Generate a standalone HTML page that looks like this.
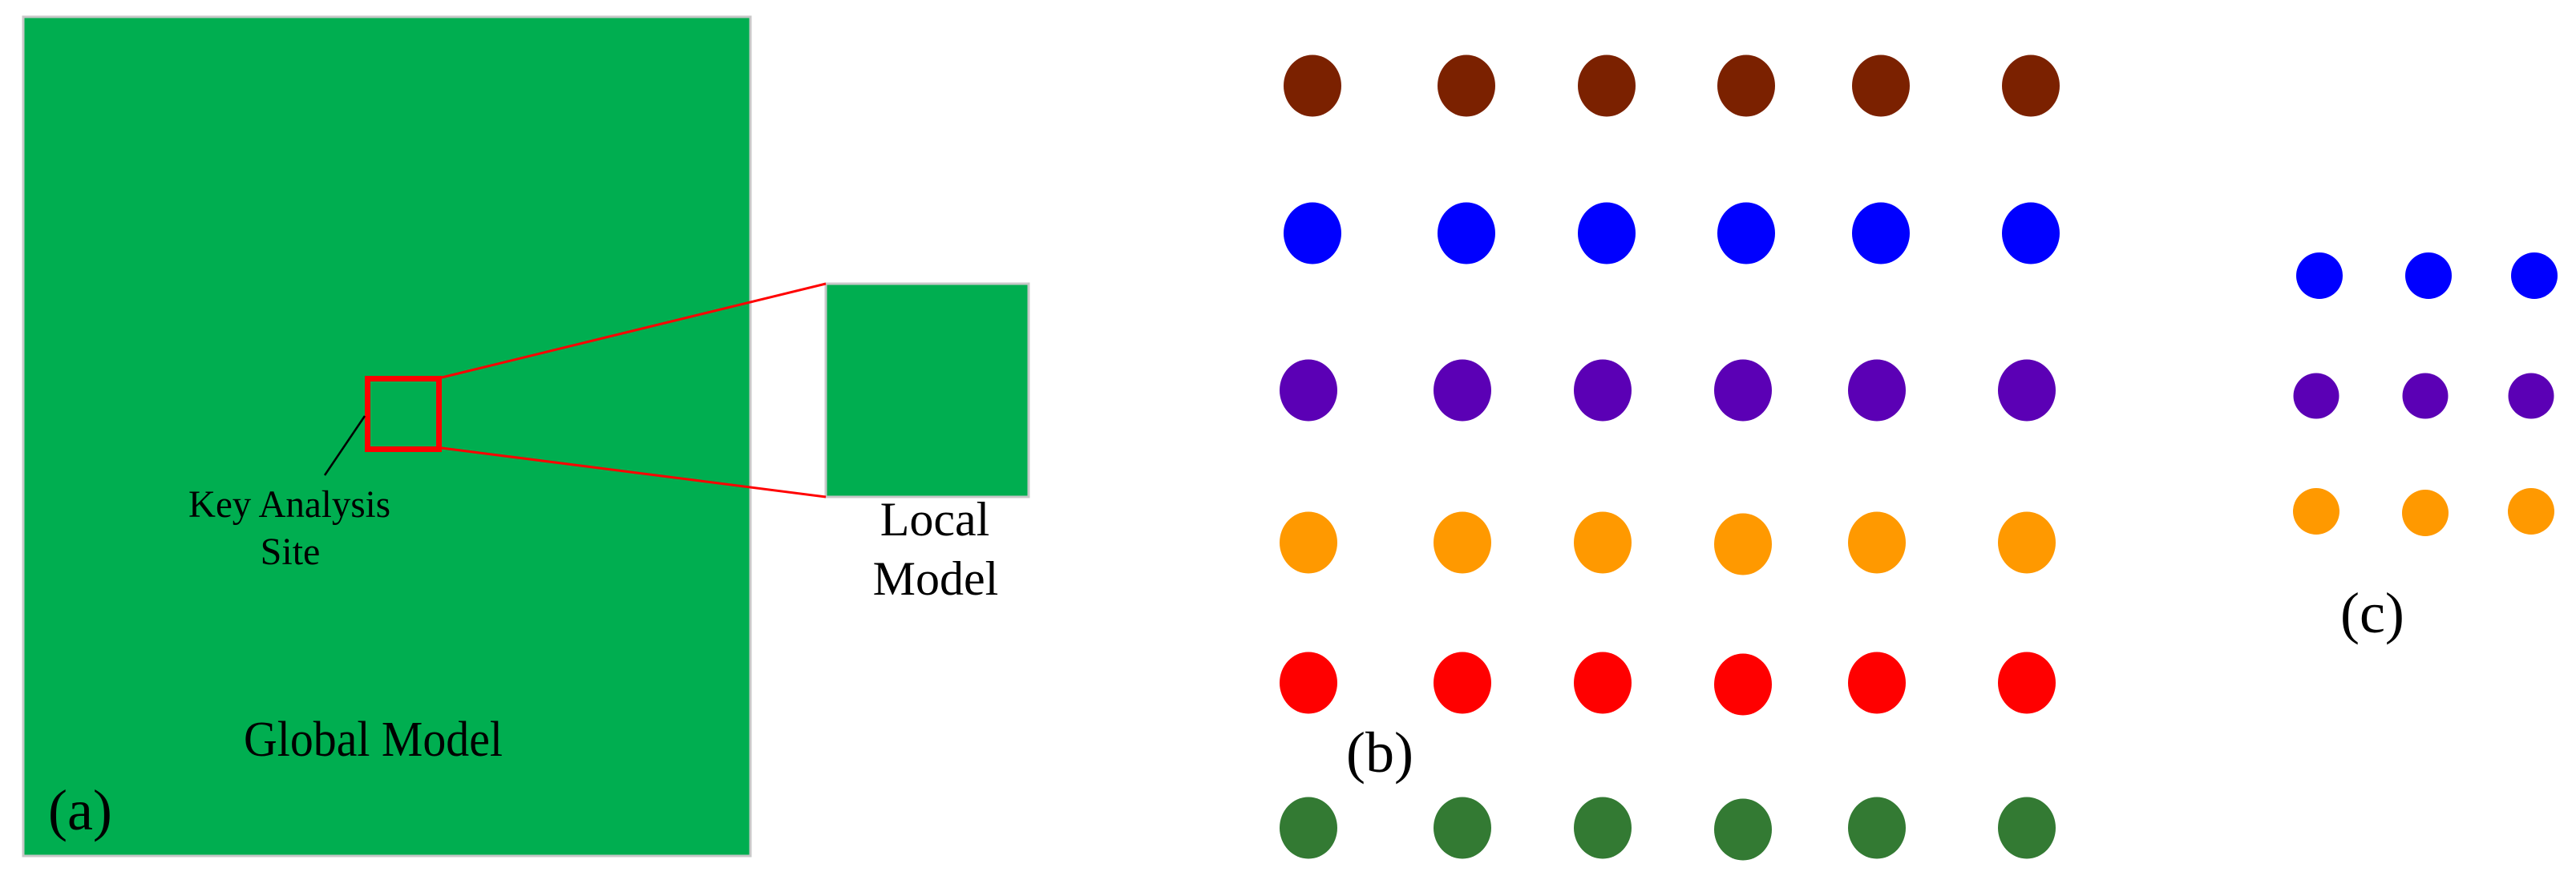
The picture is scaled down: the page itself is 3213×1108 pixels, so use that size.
<!DOCTYPE html>
<html><head><meta charset="utf-8"><style>
html,body{margin:0;padding:0;background:#fff;}
svg{display:block;}
svg text{font-family:"Liberation Serif","Times New Roman",Times,serif !important;fill:#000;}
</style></head><body>
<svg width="3213" height="1108" viewBox="0 0 3213 1108" xmlns="http://www.w3.org/2000/svg" font-family="Liberation Serif, Times New Roman, serif">
<rect x="29" y="21" width="907" height="1047" fill="#00AE50" stroke="#c8c8c8" stroke-width="3"/>
<rect x="1030" y="354" width="253" height="266" fill="#00AE50" stroke="#c8c8c8" stroke-width="3"/>
<line x1="551" y1="471" x2="1030" y2="354" stroke="#ff0000" stroke-width="3"/>
<line x1="551" y1="559" x2="1030" y2="620" stroke="#ff0000" stroke-width="3"/>
<rect x="458.5" y="472.5" width="89" height="88" fill="none" stroke="#ff0000" stroke-width="7"/>
<line x1="455" y1="519" x2="405" y2="593" stroke="#000" stroke-width="2.5"/>
<text font-family="Liberation Serif" x="361" y="645" font-size="48" text-anchor="middle" textLength="252" lengthAdjust="spacingAndGlyphs">Key Analysis</text>
<text font-family="Liberation Serif" x="362" y="704" font-size="48" text-anchor="middle">Site</text>
<text font-family="Liberation Serif" x="304" y="943" font-size="62" textLength="323" lengthAdjust="spacingAndGlyphs">Global Model</text>
<text font-family="Liberation Serif" x="1166" y="668" font-size="60" text-anchor="middle">Local</text>
<text font-family="Liberation Serif" x="1167" y="742" font-size="60" text-anchor="middle">Model</text>
<text font-family="Liberation Serif" x="60" y="1035" font-size="72">(a)</text>
<text font-family="Liberation Serif" x="1679" y="963" font-size="72">(b)</text>
<text font-family="Liberation Serif" x="2919" y="789" font-size="72">(c)</text>
<g>
<g fill="#7B2100">
<ellipse cx="1637" cy="107" rx="36" ry="38.5"/><ellipse cx="1829" cy="107" rx="36" ry="38.5"/><ellipse cx="2004" cy="107" rx="36" ry="38.5"/><ellipse cx="2178" cy="107" rx="36" ry="38.5"/><ellipse cx="2346" cy="107" rx="36" ry="38.5"/><ellipse cx="2533" cy="107" rx="36" ry="38.5"/>
</g>
<g fill="#0000FF">
<ellipse cx="1637" cy="291" rx="36" ry="38.5"/><ellipse cx="1829" cy="291" rx="36" ry="38.5"/><ellipse cx="2004" cy="291" rx="36" ry="38.5"/><ellipse cx="2178" cy="291" rx="36" ry="38.5"/><ellipse cx="2346" cy="291" rx="36" ry="38.5"/><ellipse cx="2533" cy="291" rx="36" ry="38.5"/>
</g>
<g fill="#5B00B5">
<ellipse cx="1632" cy="487" rx="36" ry="38.5"/><ellipse cx="1824" cy="487" rx="36" ry="38.5"/><ellipse cx="1999" cy="487" rx="36" ry="38.5"/><ellipse cx="2174" cy="487" rx="36" ry="38.5"/><ellipse cx="2341" cy="487" rx="36" ry="38.5"/><ellipse cx="2528" cy="487" rx="36" ry="38.5"/>
</g>
<g fill="#FF9900">
<ellipse cx="1632" cy="677" rx="36" ry="38.5"/><ellipse cx="1824" cy="677" rx="36" ry="38.5"/><ellipse cx="1999" cy="677" rx="36" ry="38.5"/><ellipse cx="2174" cy="679" rx="36" ry="38.5"/><ellipse cx="2341" cy="677" rx="36" ry="38.5"/><ellipse cx="2528" cy="677" rx="36" ry="38.5"/>
</g>
<g fill="#FF0000">
<ellipse cx="1632" cy="852" rx="36" ry="38.5"/><ellipse cx="1824" cy="852" rx="36" ry="38.5"/><ellipse cx="1999" cy="852" rx="36" ry="38.5"/><ellipse cx="2174" cy="854" rx="36" ry="38.5"/><ellipse cx="2341" cy="852" rx="36" ry="38.5"/><ellipse cx="2528" cy="852" rx="36" ry="38.5"/>
</g>
<g fill="#337A33">
<ellipse cx="1632" cy="1033" rx="36" ry="38.5"/><ellipse cx="1824" cy="1033" rx="36" ry="38.5"/><ellipse cx="1999" cy="1033" rx="36" ry="38.5"/><ellipse cx="2174" cy="1035" rx="36" ry="38.5"/><ellipse cx="2341" cy="1033" rx="36" ry="38.5"/><ellipse cx="2528" cy="1033" rx="36" ry="38.5"/>
</g>
<g fill="#0000FF">
<circle cx="2893" cy="344" r="29"/><circle cx="3029" cy="344" r="29"/><circle cx="3161" cy="344" r="29"/>
</g>
<g fill="#5B00B5">
<circle cx="2889" cy="494" r="28.5"/><circle cx="3025" cy="494" r="28.5"/><circle cx="3157" cy="494" r="28.5"/>
</g>
<g fill="#FF9900">
<circle cx="2889" cy="638" r="29"/><circle cx="3025" cy="640" r="29"/><circle cx="3157" cy="638" r="29"/>
</g>
</g>
</svg>
</body></html>
